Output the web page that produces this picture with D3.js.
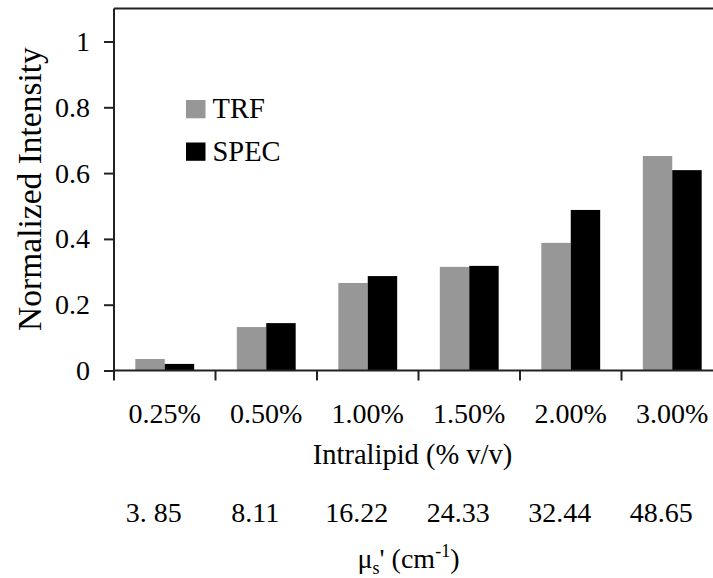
<!DOCTYPE html>
<html>
<head>
<meta charset="utf-8">
<script src="https://cdn.jsdelivr.net/npm/d3@7"></script>
<style>
  html, body { margin: 0; padding: 0; background: #fff; }
  svg { display: block; }
</style>
</head>
<body>
<svg id="chart" width="713" height="578"></svg>
<script>
// Intralipid concentrations (first row of x labels)
const categories = ["0.25%", "0.50%", "1.00%", "1.50%", "2.00%", "3.00%"];
// Reduced scattering coefficients (second row of x labels)
const musLabels = ["3. 85", "8.11", "16.22", "24.33", "32.44", "48.65"];
// Series
const seriesNames = ["TRF", "SPEC"];
const trfValues  = [0.035, 0.132, 0.266, 0.315, 0.388, 0.652];
const specValues = [0.020, 0.144, 0.287, 0.318, 0.488, 0.609];
const seriesColors = ["#979797", "#000000"];
// Y-axis ticks
const yTicks = [0, 0.2, 0.4, 0.6, 0.8, 1];
const yTickLabels = ["0", "0.2", "0.4", "0.6", "0.8", "1"];

const FONT = "'Liberation Serif'";
const data = categories.map((c, i) => ({ cat: c, values: [trfValues[i], specValues[i]] }));

const svg = d3.select("#chart").style("font-family", FONT);
const margin = { left: 114, top: 8.6 };
const plotW = 609, plotH = 361.9;
const g = svg.append("g").attr("transform", `translate(${margin.left},${margin.top})`);

const y = d3.scaleLinear().domain([0, 1.1]).range([plotH, 0]);
const x0 = d3.scaleBand().domain(categories).range([0, plotW]).paddingInner(0.42).paddingOuter(0.21);
const x1 = d3.scaleBand().domain(seriesNames).range([0, x0.bandwidth()]).padding(0);

// Bars
const groups = g.selectAll("g.cat").data(data).join("g")
  .attr("class", "cat")
  .attr("transform", d => `translate(${x0(d.cat)},0)`);
groups.selectAll("rect").data(d => d.values.map((v, k) => ({ v, s: seriesNames[k], k })))
  .join("rect")
  .attr("x", d => x1(d.s))
  .attr("width", x1.bandwidth())
  .attr("y", d => y(d.v))
  .attr("height", d => y(0) - y(d.v))
  .attr("fill", d => seriesColors[d.k]);

// Plot frame (top and right border)
const axisColor = "#222";
g.append("path")
  .attr("d", `M0,0H${plotW}V${plotH}`)
  .attr("fill", "none").attr("stroke", axisColor).attr("stroke-width", 2);

// Y axis
const yAxis = g.append("g")
  .call(d3.axisLeft(y).tickValues(yTicks).tickFormat((d, i) => yTickLabels[i]).tickSize(10).tickPadding(14));
yAxis.attr("font-family", null).attr("font-size", null);
yAxis.select(".domain").attr("d", `M0,0V${plotH}`).attr("stroke", axisColor).attr("stroke-width", 2);
yAxis.selectAll(".tick line").attr("stroke", axisColor).attr("stroke-width", 2);
yAxis.selectAll(".tick text")
  .style("font-family", FONT)
  .style("font-size", "28px").attr("fill", "#000");

// X axis line and category boundary ticks
g.append("line")
  .attr("x1", 0).attr("x2", plotW).attr("y1", y(0)).attr("y2", y(0))
  .attr("stroke", axisColor).attr("stroke-width", 2);
const boundaries = d3.range(categories.length + 1).map(i => i * x0.step());
g.selectAll("line.xtick").data(boundaries).join("line")
  .attr("class", "xtick")
  .attr("x1", d => d).attr("x2", d => d)
  .attr("y1", y(0)).attr("y2", y(0) + 10)
  .attr("stroke", axisColor).attr("stroke-width", 2);

// Category labels
const labelFont = 28;
g.selectAll("text.cat").data(categories).join("text")
  .attr("class", "cat")
  .attr("x", d => x0(d) + x0.bandwidth() / 2)
  .attr("y", y(0) + 52.5)
  .attr("text-anchor", "middle")
  .style("font-family", FONT)
  .style("font-size", labelFont + "px")
  .text(d => d);

g.append("text")
  .attr("x", plotW / 2 - 6)
  .attr("y", y(0) + 94)
  .attr("text-anchor", "middle")
  .style("font-family", FONT)
  .style("font-size", "28.5px")
  .text("Intralipid (% v/v)");

// Scattering-coefficient row sits slightly left of the category centres
g.selectAll("text.mus").data(musLabels).join("text")
  .attr("class", "mus")
  .attr("x", (d, i) => x0(categories[i]) + x0.bandwidth() / 2 - 11)
  .attr("y", y(0) + 151.5)
  .attr("text-anchor", "middle")
  .style("font-family", FONT)
  .style("font-size", labelFont + "px")
  .text(d => d);

const musTitle = g.append("text")
  .attr("x", plotW / 2 - 10)
  .attr("y", y(0) + 197.5)
  .attr("text-anchor", "middle")
  .style("font-family", FONT)
  .style("font-size", "28px");
musTitle.append("tspan").text("\u03bc");
musTitle.append("tspan").attr("dy", 6).style("font-size", "18px").text("s");
musTitle.append("tspan").attr("dy", -6).text("' (cm");
musTitle.append("tspan").attr("dy", -11).style("font-size", "18px").text("-1");
musTitle.append("tspan").attr("dy", 11).text(")");

// Y-axis title
svg.append("text")
  .attr("transform", `translate(40.5,${189}) rotate(-90)`)
  .attr("text-anchor", "middle")
  .style("font-family", FONT)
  .style("font-size", "33.5px")
  .text("Normalized Intensity");

// Legend
const legend = svg.append("g").attr("transform", "translate(186,100)");
seriesNames.forEach((name, k) => {
  const row = legend.append("g").attr("transform", `translate(0,${k * 42.5})`);
  row.append("rect").attr("width", 19.5).attr("height", 18.3).attr("fill", seriesColors[k]);
  row.append("text").attr("x", 26.5).attr("y", 18.3)
    .style("font-family", FONT)
    .style("font-size", "28.5px").text(name);
});
</script>
</body>
</html>
